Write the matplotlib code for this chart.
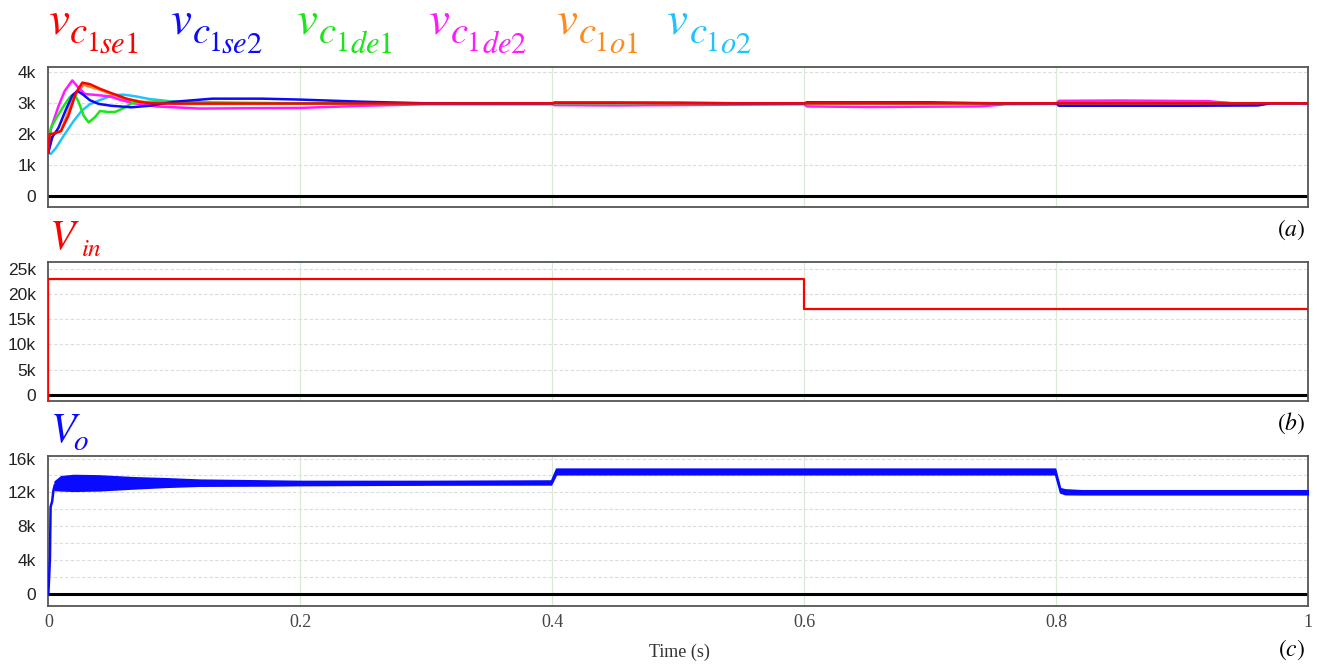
import matplotlib.pyplot as plt

plt.rcParams['mathtext.fontset'] = 'stix'

# ---- (a) capacitor voltages, kV, breakpoints (t in s) ----
se1_t = [0, 0.001, 0.004, 0.010, 0.016, 0.022, 0.027, 0.033, 0.041, 0.050, 0.062, 0.072, 0.081, 0.10, 0.40, 0.402, 0.45, 0.5, 1.0]
se1_v = [1.41, 2.0, 2.02, 2.1, 2.6, 3.35, 3.67, 3.62, 3.47, 3.33, 3.15, 3.05, 3.0, 2.99, 3.0, 3.02, 3.02, 3.0, 3.0]

se2_t = [0, 0.003, 0.008, 0.014, 0.019, 0.023, 0.027, 0.033, 0.040, 0.050, 0.066, 0.08, 0.10, 0.13, 0.17, 0.20, 0.25, 0.30,
         0.40, 0.402, 0.5, 0.55, 0.60, 0.602, 0.70, 0.75, 0.80, 0.802, 0.90, 0.96, 0.97, 1.0]
se2_v = [1.4, 1.9, 2.2, 2.8, 3.25, 3.4, 3.3, 3.1, 2.98, 2.92, 2.87, 2.92, 3.05, 3.15, 3.15, 3.12, 3.05, 3.0,
         3.0, 3.02, 3.02, 3.0, 3.0, 3.03, 3.03, 3.0, 3.0, 2.92, 2.92, 2.93, 3.0, 3.0]

de1_t = [0, 0.002, 0.006, 0.012, 0.017, 0.0205, 0.024, 0.028, 0.032, 0.037, 0.041, 0.047, 0.053, 0.060, 0.066, 0.08, 0.10, 0.15, 0.20, 1.0]
de1_v = [1.6, 2.2, 2.5, 2.9, 3.2, 3.31, 3.05, 2.6, 2.38, 2.55, 2.75, 2.72, 2.72, 2.85, 3.0, 3.05, 3.05, 3.02, 3.0, 3.0]

de2_t = [0, 0.003, 0.008, 0.013, 0.019, 0.023, 0.029, 0.038, 0.049, 0.058, 0.068, 0.085, 0.12, 0.20, 0.25, 0.30,
         0.40, 0.402, 0.45, 0.52, 0.60, 0.602, 0.65, 0.74, 0.76, 0.80, 0.802, 0.85, 0.92, 0.94, 1.0]
de2_v = [1.8, 2.3, 2.9, 3.4, 3.74, 3.55, 3.3, 3.27, 3.22, 3.1, 3.0, 2.9, 2.83, 2.85, 2.92, 2.97,
         2.97, 2.94, 2.93, 2.95, 2.97, 2.9, 2.88, 2.9, 2.97, 2.98, 3.08, 3.09, 3.07, 3.0, 3.0]

o1_t = [0, 0.004, 0.010, 0.020, 0.028, 0.040, 0.060, 0.080, 0.10, 1.0]
o1_v = [1.45, 2.0, 2.1, 3.2, 3.6, 3.45, 3.15, 3.02, 3.0, 3.0]

o2_t = [0, 0.002, 0.006, 0.013, 0.020, 0.0265, 0.033, 0.040, 0.047, 0.053, 0.060, 0.070, 0.080, 0.10, 0.13, 0.20,
        0.80, 0.802, 0.85, 0.92, 0.94, 1.0]
o2_v = [1.4, 1.36, 1.55, 2.0, 2.42, 2.76, 2.97, 3.09, 3.2, 3.27, 3.28, 3.22, 3.14, 3.05, 3.0, 3.0,
        3.0, 3.05, 3.06, 3.05, 3.0, 3.0]

# ---- (b) input voltage, V ----
vin_t = [0, 0, 0.6, 0.6, 1.0]
vin_v = [-1200, 23000, 23000, 17000, 17000]

# ---- (c) output voltage, V: start-up edge + ripple envelope ----
vo_rise_t = [0, 0.0008, 0.0013, 0.0018, 0.003, 0.004, 0.005]
vo_rise_v = [0, 2500, 4400, 10300, 10900, 12200, 12800]
vo_env_t = [0.005, 0.01, 0.02, 0.04, 0.068, 0.094, 0.12, 0.174, 0.20, 0.30, 0.399, 0.403, 0.41, 0.5, 0.7, 0.799,
            0.803, 0.807, 0.82, 0.9, 1.0]
vo_hi = [13300, 13900, 14050, 14000, 13780, 13660, 13500, 13400, 13350, 13350, 13400, 14800, 14800, 14800, 14800, 14800,
         12500, 12350, 12250, 12250, 12250]
vo_lo = [12300, 12250, 12200, 12250, 12480, 12670, 12800, 12830, 12870, 12930, 12950, 14150, 14150, 14150, 14150, 14150,
         12000, 11800, 11780, 11780, 11780]

a_ticks = [0, 1000, 2000, 3000, 4000]
a_labels = ['0', '1k', '2k', '3k', '4k']
b_ticks = [0, 5000, 10000, 15000, 20000, 25000]
b_labels = ['0', '5k', '10k', '15k', '20k', '25k']
c_ticks = [0, 4000, 8000, 12000, 16000]
c_labels = ['0', '4k', '8k', '12k', '16k']
c_grid = [2000, 4000, 6000, 8000, 10000, 12000, 14000, 16000]
x_ticks = [0, 0.2, 0.4, 0.6, 0.8, 1.0]
x_labels = ['0', '0.2', '0.4', '0.6', '0.8', '1']

RED, BLUE, GREEN, MAG, ORANGE, CYAN = '#ff0000', '#0a0aff', '#19e619', '#ff1aff', '#ff8a1a', '#1ec3ff'
W, H = 1317, 666


def style(ax, ylim, ticks, labels, grid):
    ax.set_xlim(0, 1)
    ax.set_ylim(ylim)
    ax.set_yticks(ticks)
    ax.set_yticklabels(labels, fontfamily='Liberation Sans', fontsize=12.5, color='#222222')
    ax.set_xticks(x_ticks)
    ax.set_xticklabels([])
    ax.tick_params(length=0, pad=9)
    for g in grid:
        ax.axhline(g, color='#dcdcdc', lw=0.8, ls=(0, (3, 2)), zorder=0)
    for g in x_ticks[1:-1]:
        ax.axvline(g, color='#d6ead6', lw=0.9, zorder=0)
    ax.axhline(0, color='k', lw=2.2, zorder=1)
    for s in ax.spines.values():
        s.set_color('#555555')
        s.set_linewidth(1.3)


def put(x0, pieces, color):
    # pieces: (math text, dx px, baseline px from top, size pt)
    for s, dx, base, size in pieces:
        fig.text((x0 + dx) / W, 1 - base / H, '$' + s + '$', color=color,
                 fontsize=size, ha='left', va='baseline')


fig = plt.figure(figsize=(W / 100, H / 100), dpi=100)
ax_a = fig.add_axes([0.0367, 0.6896, 0.9567, 0.2093])
ax_b = fig.add_axes([0.0367, 0.3984, 0.9567, 0.2087])
ax_c = fig.add_axes([0.0367, 0.0905, 0.9567, 0.2252])

# (a)
style(ax_a, (-350, 4165), a_ticks, a_labels, [1000, 2000, 3000, 4000])
for t, v, c in [(o2_t, o2_v, CYAN), (o1_t, o1_v, ORANGE), (de2_t, de2_v, MAG),
                (de1_t, de1_v, GREEN), (se2_t, se2_v, BLUE), (se1_t, se1_v, RED)]:
    ax_a.plot(t, [x * 1000 for x in v], color=c, lw=1.8, zorder=3)

# (b)
style(ax_b, (-1130, 26400), b_ticks, b_labels, [5000, 10000, 15000, 20000, 25000])
ax_b.plot(vin_t, vin_v, color=RED, lw=1.6, zorder=3)

# (c)
style(ax_c, (-1380, 16330), c_ticks, c_labels, c_grid)
ax_c.plot(vo_rise_t, vo_rise_v, color=BLUE, lw=1.8, zorder=3)
ax_c.fill_between(vo_env_t, vo_lo, vo_hi, color=BLUE, lw=1.2, edgecolor=BLUE, zorder=3)
ax_c.set_xticklabels(x_labels, fontfamily='Liberation Serif', fontsize=13, color='#444444')
ax_c.tick_params(axis='x', pad=6)

fig.text(0.5156, 0.021, 'Time (s)', ha='center', va='center', fontfamily='Liberation Serif',
         fontsize=13, color='#333333')


# trace names v_{c_{1_xx}}, built piece by piece
def name(sub, dc, d1, dsub):
    return [('v', -2, 33.3, 34), ('c', dc - 2, 43.3, 28),
            ('1', d1 - 1, 50.7, 20), (sub, dsub - 1, 53.3, 22)]


put(50, name('se1', 21, 37, 50), RED)
put(171.7, name('se2', 22, 37, 50), BLUE)
put(298.3, name('de1', 22, 38, 53), GREEN)
put(430, name('de2', 22, 37, 53), MAG)
put(558.3, name('o1', 22, 37, 52), ORANGE)
put(668.3, name('o2', 23, 38, 53), CYAN)

put(49, [('V', 0, 249, 30), ('in', 32, 255.5, 18)], RED)
put(50, [('V', 0, 442, 30), ('o', 23, 450, 21)], BLUE)

for s, y in [(r'$(a)$', 230), (r'$(b)$', 423), (r'$(c)$', 650)]:
    fig.text(0.991, 1 - y / 666, s, fontsize=17, ha='right', va='center')

fig.savefig('out.png', dpi=100)
